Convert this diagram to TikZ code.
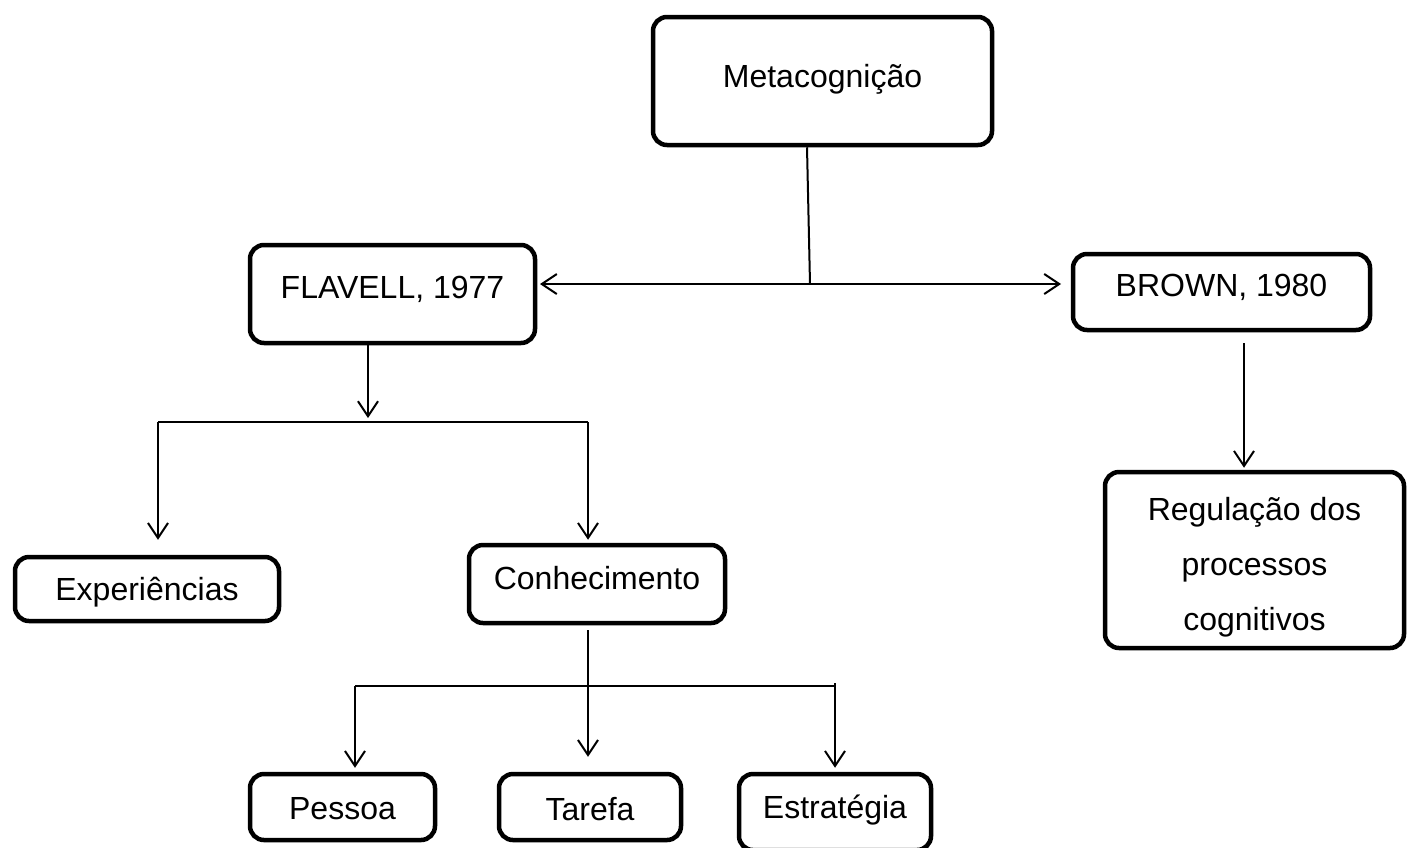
\documentclass[tikz,border=0pt]{standalone}
\usepackage{fontspec}
\setmainfont{Liberation Sans}
\usetikzlibrary{arrows.meta}
\begin{document}
\begin{tikzpicture}[x=1pt,y=-1pt,
  box/.style={draw, line width=4.5pt, rounded corners=14pt, inner sep=0pt},
  txt/.style={align=center, inner sep=0pt, font=\fontsize{32}{55}\selectfont},
  conn/.style={line width=2pt},
  arr/.style={conn, -{Straight Barb[length=15pt,width=20pt]}},
  barr/.style={conn, {Straight Barb[length=15pt,width=20pt]}-{Straight Barb[length=15pt,width=20pt]}}]
\path[use as bounding box, fill=white] (0,0) rectangle (1407,847);

\node[box, minimum width=339pt, minimum height=128pt,
  label={[txt, yshift=2pt]center:Metacognição}] (meta) at (822.5,81) {};
\node[box, minimum width=285pt, minimum height=98pt,
  label={[txt, yshift=5pt]center:FLAVELL, 1977}] (flavell) at (392.5,294) {};
\node[box, minimum width=297pt, minimum height=76pt,
  label={[txt, yshift=5pt]center:BROWN, 1980}] (brown) at (1221.5,292) {};
\node[box, minimum width=299pt, minimum height=176pt,
  label={[txt, yshift=-7pt]center:Regulação dos\\processos\\cognitivos}] (regul) at (1254.5,560) {};
\node[box, minimum width=264pt, minimum height=64pt,
  label={[txt, yshift=-3pt]center:Experiências}] (exper) at (147,589) {};
\node[box, minimum width=256pt, minimum height=78pt,
  label={[txt, yshift=6pt]center:Conhecimento}] (conhec) at (597,584) {};
\node[box, minimum width=185pt, minimum height=66pt,
  label={[txt, yshift=-2pt]center:Pessoa}] (pessoa) at (342.5,807) {};
\node[box, minimum width=182pt, minimum height=66pt,
  label={[txt, yshift=-2pt]center:Tarefa}] (tarefa) at (590,807) {};
\node[box, minimum width=192pt, minimum height=76pt,
  label={[txt, yshift=2pt]center:Estratégia}] (estrat) at (835,812) {};

% Metacognição to the two authors
\coordinate (mj) at (810,284);
\coordinate (hL) at (540,284);
\coordinate (hR) at (1061,284);
\draw[conn] (meta.south -| 807,0) -- (mj);
\draw[barr] (hL) -- (hR);

% FLAVELL branch
\coordinate (fj) at (368,422);
\coordinate (fL) at (158,422);
\coordinate (fR) at (588,422);
\draw[arr] (flavell.south -| fj) -- ([yshift=4pt]fj);
\draw[conn] (fL) -- (fR);
\draw[arr] (fL) -- ([yshift=15pt]exper.north -| fL);
\draw[arr] (fR) -- ([yshift=3pt]conhec.north -| fR);

% Conhecimento branch
\coordinate (cL) at (355,686);
\coordinate (cR) at (835,686);
\draw[arr] ([yshift=-5pt]conhec.south -| 588,0) -- ([yshift=15pt]tarefa.north -| 588,0);
\draw[conn] (cL) -- (cR);
\draw[arr] (cL) -- ([yshift=4pt]pessoa.north -| cL);
\draw[arr] ([yshift=3pt]cR) -- ([yshift=4pt]estrat.north -| cR);

% BROWN branch
\draw[arr] ([yshift=-11pt]brown.south -| 1244,0) -- ([yshift=2pt]regul.north -| 1244,0);
\end{tikzpicture}
\end{document}
